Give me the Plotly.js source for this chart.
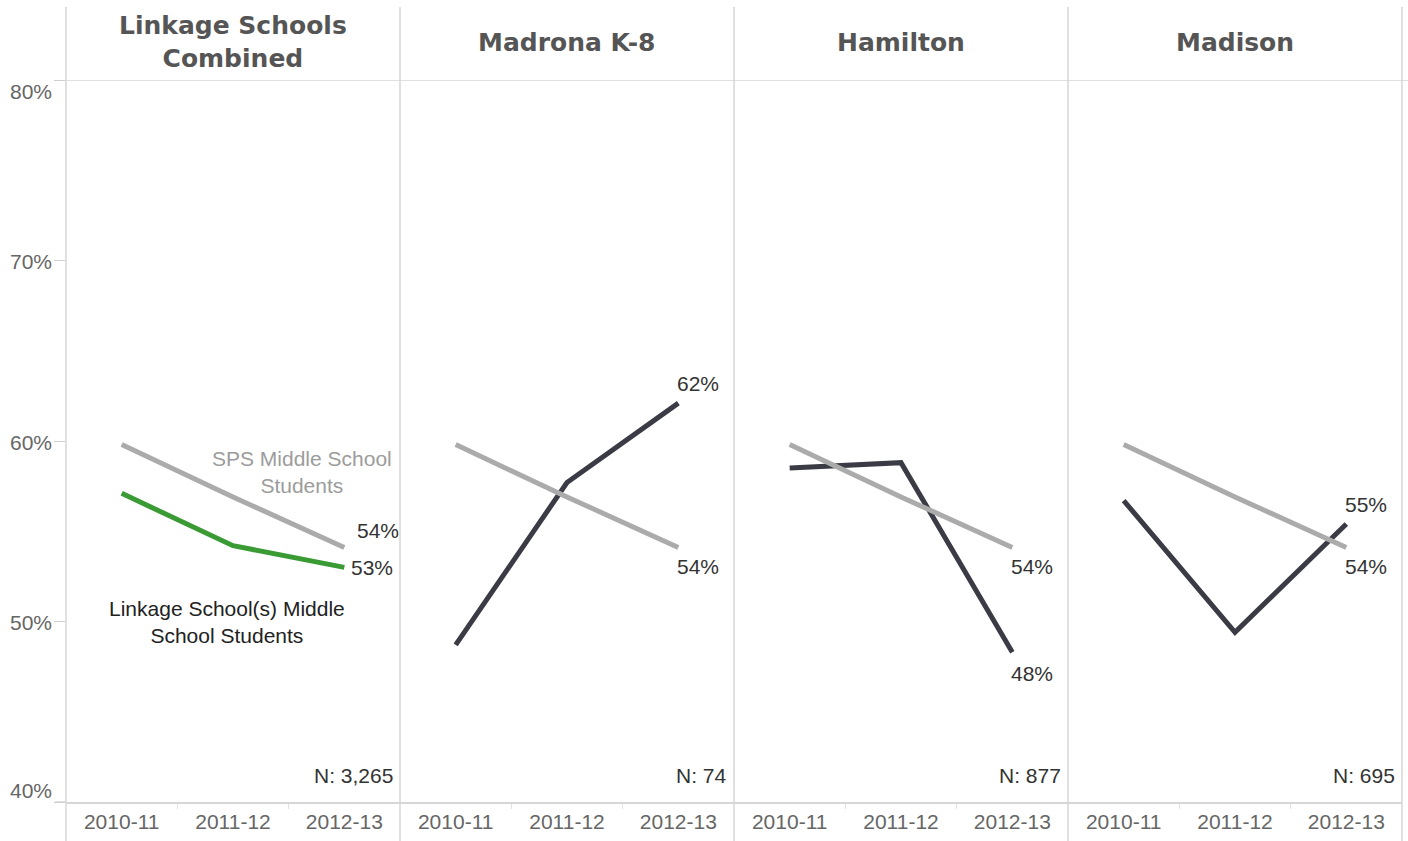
<!DOCTYPE html>
<html>
<head>
<meta charset="utf-8">
<script src="https://cdn.plot.ly/plotly-3.0.1.min.js"></script>
<style>html,body{margin:0;padding:0;background:#fff;}#chart{width:1408px;height:841px;}</style>
</head>
<body>
<div id="chart"></div>
<script>
// ---- data ----
const categories = ['2010-11', '2011-12', '2012-13'];
const panelTitles = ['Linkage Schools<br>Combined', 'Madrona K-8', 'Hamilton', 'Madison'];
const spsMiddleSchool = [59.8, 56.9, 54.1];
const linkageCombined = [57.1, 54.2, 53.0];
const madrona = [48.7, 57.7, 62.1];
const hamilton = [58.5, 58.8, 48.3];
const madison = [56.7, 49.4, 55.4];
const nCounts = ['N: 3,265', 'N: 74', 'N: 877', 'N: 695'];
const yTickVals = [40, 50, 60, 70, 80];
const yTickText = ['40%', '50%', '60%', '70%', '80%'];

const schoolSeries = [linkageCombined, madrona, hamilton, madison];

// ---- layout constants ----
const W = 1408, H = 841;
const plotLeft = 66, panelW = 334, plotTop = 80, plotBottom = 802;
const GRAY = '#ababab', DARK = '#3b3b45', GREEN = '#3a9a34';
const LINE = '#d6d6d6';
const txtFont = 'Liberation Sans, Arial, sans-serif';
const FS = 21;

const traces = [];
const layout = {
  width: W, height: H,
  margin: {l: 0, r: 0, t: 0, b: 0},
  paper_bgcolor: '#fff', plot_bgcolor: '#fff',
  showlegend: false,
  yaxis: {
    domain: [1 - plotBottom / H, 1 - plotTop / H],
    range: [40, 80], tickvals: yTickVals, ticks: 'outside', ticklen: 11,
    tickcolor: '#cfcfcf', showticklabels: false, showgrid: false,
    zeroline: false, showline: false, anchor: 'x', fixedrange: true, automargin: false
  },
  shapes: [], annotations: []
};

for (let i = 0; i < 4; i++) {
  const xa = i === 0 ? 'x' : 'x' + (i + 1);
  const key = i === 0 ? 'xaxis' : 'xaxis' + (i + 1);
  layout[key] = {
    domain: [(plotLeft + panelW * i) / W, (plotLeft + panelW * (i + 1)) / W],
    type: 'category', categoryorder: 'array', categoryarray: categories,
    range: [-0.5, 2.5], showgrid: false, zeroline: false,
    showline: true, linecolor: LINE, linewidth: 1.5,
    ticks: 'outside', tickson: 'boundaries', ticklen: 5, tickcolor: '#e2e2e2',
    tickfont: {family: txtFont, size: FS, color: '#666'},
    ticklabelstandoff: 0,
    anchor: 'y', fixedrange: true, automargin: false
  };
  const school = schoolSeries[i];
  traces.push({
    x: categories, y: school, xaxis: xa, yaxis: 'y', type: 'scatter', mode: 'lines',
    line: {color: i === 0 ? GREEN : DARK, width: 5}, hoverinfo: 'skip'
  });
  traces.push({
    x: categories, y: spsMiddleSchool, xaxis: xa, yaxis: 'y', type: 'scatter', mode: 'lines',
    line: {color: GRAY, width: 5}, hoverinfo: 'skip'
  });

  // header title
  layout.annotations.push({
    xref: 'paper', yref: 'paper',
    x: (plotLeft + panelW * (i + 0.5)) / W, y: 1 - 42 / H,
    xanchor: 'center', yanchor: 'middle', showarrow: false,
    text: '<b>' + panelTitles[i] + '</b>',
    font: {family: 'DejaVu Sans, sans-serif', size: 25, color: '#555'}
  });

  // end value labels
  const last = categories.length - 1;
  const sEnd = spsMiddleSchool[last], dEnd = school[last];
  if (i === 0) {
    layout.annotations.push({xref: xa, yref: 'y', x: categories[last], y: sEnd,
      xanchor: 'left', yanchor: 'middle', xshift: 11, yshift: 17, showarrow: false,
      text: Math.round(sEnd) + '%', font: {family: txtFont, size: FS, color: '#333'}});
    layout.annotations.push({xref: xa, yref: 'y', x: categories[last], y: dEnd,
      xanchor: 'left', yanchor: 'middle', xshift: 5, yshift: 0, showarrow: false,
      text: Math.round(dEnd) + '%', font: {family: txtFont, size: FS, color: '#333'}});
  } else {
    layout.annotations.push({xref: xa, yref: 'y', x: categories[last], y: sEnd,
      xanchor: 'left', yanchor: 'middle', xshift: -3, yshift: -19, showarrow: false,
      text: Math.round(sEnd) + '%', font: {family: txtFont, size: FS, color: '#333'}});
    layout.annotations.push({xref: xa, yref: 'y', x: categories[last], y: dEnd,
      xanchor: 'left', yanchor: 'middle', xshift: -3, yshift: dEnd > sEnd ? 20 : -21, showarrow: false,
      text: Math.round(dEnd) + '%', font: {family: txtFont, size: FS, color: '#333'}});
  }

  // N counts
  layout.annotations.push({xref: xa, yref: 'y', x: 2.5, y: 40,
    xanchor: 'right', yanchor: 'bottom', xshift: -5, yshift: 13, showarrow: false,
    text: nCounts[i], font: {family: txtFont, size: FS, color: '#333'}});
}

// series labels in first panel
layout.annotations.push({xref: 'x', yref: 'y', x: 1.62, y: 58.3, showarrow: false,
  xanchor: 'center', yanchor: 'middle', text: 'SPS Middle School<br>Students',
  font: {family: txtFont, size: FS, color: '#9c9c9c'}});
layout.annotations.push({xref: 'x', yref: 'y', x: 0.95, y: 50.0, showarrow: false,
  xanchor: 'center', yanchor: 'middle', text: 'Linkage School(s) Middle<br>School Students',
  font: {family: txtFont, size: FS, color: '#222'}});

// y tick labels
yTickVals.forEach((v, k) => {
  layout.annotations.push({xref: 'paper', yref: 'y', x: 54 / W, y: v,
    xanchor: 'right', yanchor: 'middle', showarrow: false,
    yshift: v === 80 ? -11 : (v === 40 ? 12 : -1),
    text: yTickText[k], font: {family: txtFont, size: FS, color: '#666'}});
});

// panel dividers
for (let i = 0; i <= 4; i++) {
  layout.shapes.push({type: 'line', xref: 'paper', yref: 'paper',
    x0: (plotLeft + panelW * i) / W, x1: (plotLeft + panelW * i) / W,
    y0: 0, y1: 1 - 7 / H, line: {color: LINE, width: 1.5}, layer: 'below'});
}
// header separator at top of plot area
layout.shapes.push({type: 'line', xref: 'paper', yref: 'y',
  x0: 55 / W, x1: 1, y0: 80, y1: 80, line: {color: LINE, width: 1.5}, layer: 'below'});
// bottom line extension to tick
layout.shapes.push({type: 'line', xref: 'paper', yref: 'y',
  x0: 55 / W, x1: plotLeft / W, y0: 40, y1: 40, line: {color: LINE, width: 1.5}, layer: 'below'});

Plotly.newPlot('chart', traces, layout, {displayModeBar: false, staticPlot: true});
</script>
</body>
</html>
